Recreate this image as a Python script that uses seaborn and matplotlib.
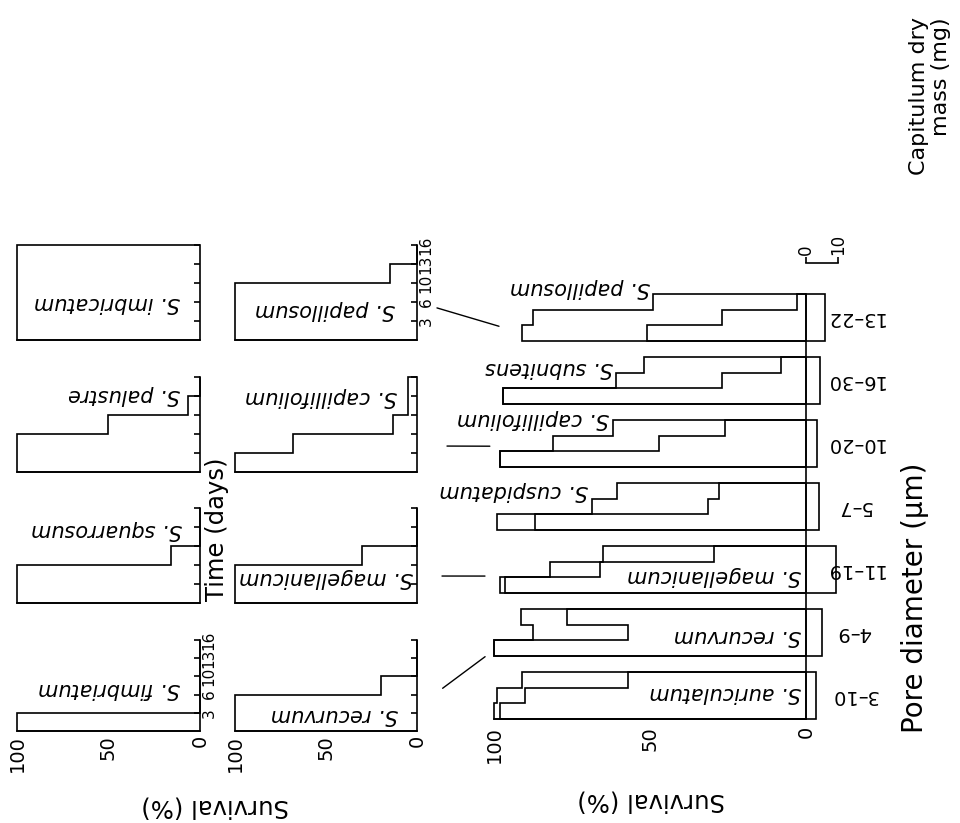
import numpy as np
import matplotlib
matplotlib.use("Agg")
import matplotlib.pyplot as plt
import matplotlib.transforms as mtransforms
from matplotlib.patches import ConnectionPatch
import seaborn as sns

# ---------------- data ----------------
time_days = [3, 6, 10, 13, 16]
survival_ticks = [100, 50, 0]

small_species = ["S. imbricatum", "S. papillosum", "S. palustre", "S. capillifolium",
                 "S. squarrosum", "S. magellanicum", "S. fimbriatum", "S. recurvum"]
surv_imbricatum = [100, 100, 100, 100, 100]
surv_papillosum = [100, 100, 100, 15, 0]
surv_palustre = [100, 100, 50, 6.5, 0]
surv_capillifolium = [100, 68, 13, 5, 5]
surv_squarrosum = [100, 100, 16, 0, 0]
surv_magellanicum = [100, 100, 30, 0, 0]
surv_fimbriatum = [100, 0, 0, 0, 0]
surv_recurvum = [100, 100, 20, 0, 0]

pore_diameter = ["3\u201310", "4\u20139", "11\u201319", "5\u20137", "10\u201320", "16\u201330", "13\u201322"]
main_species = ["S. auriculatum", "S. recurvum", "S. magellanicum", "S. cuspidatum",
                "S. capillifolium", "S. subnitens", "S. papillosum"]
surv_upper = [[100, 99, 91], [100, 87.5, 91.5], [98, 82, 65], [99, 68.5, 60.5],
              [98, 81, 62], [97, 61, 52], [91, 87.5, 49]]
surv_lower = [[98, 90, 57], [100, 57, 76.5], [96.5, 66, 29.5], [87, 31.5, 28],
              [98, 47, 26], [97, 27, 8], [51, 27, 3]]
capitulum_mass = [3.0, 5.0, 9.5, 4.0, 3.4, 4.4, 6.0]
mass_ticks = [0, 10]

# ---------------- style ----------------
sns.set_theme(style="white")
plt.rcParams["font.family"] = ["DejaVu Sans"]
plt.rcParams["axes.edgecolor"] = "black"
plt.rcParams["axes.linewidth"] = 1.2
plt.rcParams["xtick.color"] = "black"
plt.rcParams["ytick.color"] = "black"
LW = 1.2
INK = "black"

W, H = 960, 823
fig = plt.figure(figsize=(W / 100, H / 100), dpi=100)
fig.patch.set_facecolor("white")


def rect(x0, y0, x1, y1):
    return [x0 / W, 1 - y1 / H, (x1 - x0) / W, (y1 - y0) / H]


# ---------------- small panels ----------------
col_x = [(17, 200), (235, 417)]
row_y = [(245, 340), (377, 472), (508, 603), (640, 731)]
small_values = [surv_imbricatum, surv_papillosum, surv_palustre, surv_capillifolium,
                surv_squarrosum, surv_magellanicum, surv_fimbriatum, surv_recurvum]
small_label_pos = [(11, 1.95), (12, 1.6), (11, 4.05), (11, 3.95),
                   (10, 3.84), (2, 1.3), (11, 2.3), (10.5, 0.9)]
time_labelled = {1, 6}
small_axes = []
for k, (name, vals) in enumerate(zip(small_species, small_values)):
    r, c = divmod(k, 2)
    ax = fig.add_axes(rect(col_x[c][0], row_y[r][0], col_x[c][1], row_y[r][1]))
    ax.set_facecolor("none")
    ax.set_xlim(100, 0)
    ax.set_ylim(0, len(time_days))
    ax.stairs(vals, np.arange(len(vals) + 1), orientation="horizontal", baseline=0,
              color=INK, lw=LW, clip_on=False)
    sns.despine(ax=ax, left=True, top=True, right=False, bottom=False)
    ax.yaxis.tick_right()
    ax.set_yticks(np.arange(1, len(time_days) + 1))
    if k in time_labelled:
        ax.set_yticklabels([str(d) for d in time_days])
    else:
        ax.set_yticklabels([])
    ax.tick_params(axis="y", direction="in", length=4, width=LW, pad=1,
                   labelsize=11, labelrotation=90)
    for lbl in ax.get_yticklabels():
        lbl.set_va("center")
    ax.set_xticks(survival_ticks)
    if r == 3:
        ax.set_xticklabels([str(t) for t in survival_ticks])
    else:
        ax.set_xticklabels([])
    ax.tick_params(axis="x", direction="in", length=4, width=LW, pad=3,
                   labelsize=14, labelrotation=90)
    lx, ly = small_label_pos[k]
    ax.text(lx, ly, name, rotation=180, rotation_mode="anchor", ha="left", va="center",
            fontsize=15, fontstyle="italic", color=INK)
    small_axes.append(ax)

# ---------------- main panel ----------------
pitch = 4
axm = fig.add_axes(rect(494, 294, 806, 719))
axm.set_facecolor("none")
axm.set_xlim(100, 0)
axm.set_ylim(0, pitch * (len(pore_diameter) - 1) + 3)
main_label_pos = [(1.6, 1.65), (1.6, 1.27), (1.6, 1.1), (70, 2.5),
                  (63, 3.05), (62, 2.3), (50, 3.4)]
for g in range(len(pore_diameter)):
    edges = g * pitch + np.arange(len(surv_upper[g]) + 1)
    axm.stairs(surv_upper[g], edges, orientation="horizontal", baseline=0,
               color=INK, lw=LW, clip_on=False)
    axm.stairs(surv_lower[g], edges, orientation="horizontal", baseline=0,
               color=INK, lw=LW, clip_on=False)
    lx, ly = main_label_pos[g]
    axm.text(lx, g * pitch + ly, main_species[g], rotation=180, rotation_mode="anchor",
             ha="left", va="center", fontsize=15, fontstyle="italic", color=INK)
sns.despine(ax=axm, left=True, top=True, right=False, bottom=False)
axm.set_yticks([])
axm.set_xticks(np.arange(0, 101, 10))
axm.set_xticklabels([str(t) if t in survival_ticks else "" for t in range(0, 101, 10)])
axm.tick_params(axis="x", direction="in", length=5, width=LW, pad=5,
                labelsize=14, labelrotation=90)

# capitulum dry mass boxes
axw = fig.add_axes(rect(806, 294, 806 + 38.4, 719), sharey=axm)
axw.set_facecolor("none")
axw.set_xlim(0, 12)
axw.barh([g * pitch for g in range(len(capitulum_mass))], capitulum_mass, height=3,
         left=0, align="edge", fill=False, edgecolor=INK, lw=LW, clip_on=False)
for s in ["left", "right", "bottom"]:
    axw.spines[s].set_visible(False)
axw.spines["top"].set_bounds(0, 10)
axw.spines["top"].set_position(("outward", 22))
axw.xaxis.tick_top()
axw.set_xticks(mass_ticks)
axw.set_xticklabels([str(t) for t in mass_ticks])
axw.tick_params(axis="x", direction="out", length=4, width=LW, pad=2,
                labelsize=12, labelrotation=90)
axw.tick_params(axis="y", left=False, labelleft=False)
blend = mtransforms.blended_transform_factory(axw.transAxes, axw.transData)
for g, lab in enumerate(pore_diameter):
    axw.text(1.25, g * pitch + 1.5, lab, transform=blend, rotation=180,
             ha="center", va="center", fontsize=14, color=INK)

# ---------------- connector lines ----------------
links = [(1, (0, 2.0), (98.4, 6 * pitch + 0.95), 15, 0),
         (3, (0, 1.37), (100, 4 * pitch + 1.33), 21.6, 3),
         (5, (0, 1.42), (100, 2 * pitch + 1.08), 18, 6.5),
         (7, (0, 1.3), (100, 1 * pitch + 0.38), 23, 8)]
for k, pa, pb, sa, sb in links:
    con = ConnectionPatch(xyA=pa, coordsA=small_axes[k].transData,
                          xyB=pb, coordsB=axm.transData,
                          shrinkA=sa, shrinkB=sb, color=INK, lw=1.0)
    fig.add_artist(con)

# ---------------- titles ----------------
fig.text(215 / W, 1 - 806 / H, "Survival (%)", rotation=180, ha="center", va="center",
         fontsize=17.5, color=INK)
fig.text(651 / W, 1 - 801 / H, "Survival (%)", rotation=180, ha="center", va="center",
         fontsize=17.5, color=INK)
fig.text(217 / W, 1 - 529 / H, "Time (days)", rotation=90, ha="center", va="center",
         fontsize=17.5, color=INK)
fig.text(915 / W, 1 - 598 / H, "Pore diameter (\u03bcm)", rotation=90, ha="center",
         va="center", fontsize=20, color=INK)
fig.text(930 / W, 1 - 17 / H, "Capitulum dry\nmass (mg)", rotation=90,
         rotation_mode="anchor", ha="right", va="center", multialignment="right",
         fontsize=16, color=INK, linespacing=1.1)

fig.savefig("out.png", dpi=100, facecolor="white")
